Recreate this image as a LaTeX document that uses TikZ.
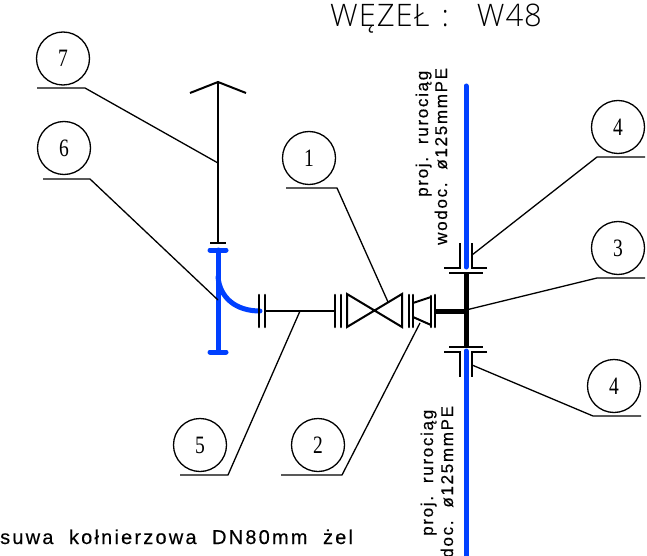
\documentclass[tikz,border=0pt]{standalone}
\usepackage{fontspec}
\setmainfont{Liberation Serif}
\newfontfamily\bubfont[FakeStretch=0.78]{Liberation Serif}
\newfontfamily\cadfont[LetterSpace=10,FakeBold=0.4]{Liberation Sans}
\newfontfamily\cadwide[LetterSpace=11,FakeBold=0.3]{Liberation Sans}
\newfontfamily\titlefont[LetterSpace=3]{Open Sans Light}
\definecolor{pipeblue}{RGB}{0,64,255}
\tikzset{
  pipe/.style={line width=2pt},
  fl/.style={line width=2.6pt,line cap=round},
  thick pipe/.style={line width=5pt},
  bluepipe/.style={draw=pipeblue,line width=5pt,line cap=round},
  leader/.style={line width=1.3pt},
  bub/.style={circle,draw,line width=1.3pt,minimum size=53pt,inner sep=0pt,font=\bubfont\fontsize{25}{25}\selectfont},
  cad/.style={font=\cadfont\fontsize{17}{17}\selectfont,inner sep=0pt},
  cadv/.style={cad,rotate=90,anchor=base west},
}
\begin{document}
\begin{tikzpicture}[x=1pt,y=-1pt]
\path[use as bounding box] (0,0) rectangle (647,556);
\clip (0,0) rectangle (647,556);
% bubbles
\node[bub] (b7) at (63,58.5) {7};
\node[bub] (b6) at (64,148) {6};
\node[bub] (b1) at (309,158) {1};
\node[bub] (b5) at (200,445) {5};
\node[bub] (b2) at (318,445) {2};
\node[bub] (b4a) at (618,127) {4};
\node[bub] (b3) at (618,248) {3};
\node[bub] (b4b) at (614,386) {4};
% named points
\coordinate (top) at (218,82);
\coordinate (stemcap) at (218,243);
\coordinate (j7) at (218,163);
\coordinate (j6) at (218,300);
\coordinate (j1) at (388,302);
\coordinate (j5) at (300,311);
\coordinate (j2) at (420,323);
\coordinate (j3) at (466,310);
\coordinate (j4a) at (472,255);
\coordinate (j4b) at (472,365);
% blue pipes
\draw[bluepipe] (466,86) -- (466,267);
\draw[bluepipe] (466,351) -- (466,560);
\draw[bluepipe] (218,250) -- (218,352);
\draw[bluepipe] (210,250) -- (226,250);
\draw[bluepipe] (210,352) -- (226,352);
\draw[bluepipe] (218,277) .. controls (220,298) and (236,311) .. (260,311);
% vent
\draw[pipe] (top) -- (stemcap);
\draw[pipe] (190,93) -- (top) -- (246,93);
\draw[pipe] (210,243) -- (226,243);
% left flanged pipe
\draw[fl] (259,295) -- (259,327);
\draw[fl] (265,295) -- (265,327);
\draw[pipe] (265,311) -- (335,311);
\draw[fl] (335,295) -- (335,327);
\draw[fl] (341,295) -- (341,327);
% valve
\draw[pipe,line join=miter] (347,294) -- (347,327) -- (402,294) -- (402,327) -- cycle;
\draw[fl] (409,295) -- (409,327);
\draw[fl] (413,295) -- (413,327);
% reducer
\draw[pipe] (413,303) -- (431,297);
\draw[pipe] (413,317) -- (431,325);
\draw[fl] (431,296) -- (431,327);
\draw[fl] (435,295) -- (435,327);
% tee
\draw[thick pipe] (435,311) -- (468,311);
\draw[thick pipe] (466,272) -- (466,348);
\draw[pipe] (449,273) -- (483,273);
\draw[pipe] (449,347) -- (483,347);
\draw[pipe] (444,268) -- (460,268) -- (460,243);
\draw[pipe] (487,268) -- (472,268) -- (472,243);
\draw[pipe] (444,352) -- (460,352) -- (460,377);
\draw[pipe] (487,352) -- (472,352) -- (472,377);
% leaders
\draw[leader] (37,88) -- (85,88) -- (j7);
\draw[leader] (43,179) -- (90,179) -- (j6);
\draw[leader] (286,188) -- (337,188) -- (j1);
\draw[leader] (180,475) -- (228,475) -- (j5);
\draw[leader] (281,475) -- (342,475) -- (j2);
\draw[leader] (645,157) -- (597,157) -- (j4a);
\draw[leader] (645,278) -- (597,278) -- (j3);
\draw[leader] (641,416) -- (593,416) -- (j4b);
% text
\node[font=\titlefont\fontsize{31}{31}\selectfont,inner sep=0pt,anchor=base west] (title) at (330,27) {WĘZEŁ\hspace{12pt}:\hspace{28pt}W48};
\node[cadv] (t1) at (428,197) {proj.\ \ rurociąg};
\node[cadv] (t2) at (447,245) {wodoc.\ \ ø125mmPE};
\node[cadv] (t3) at (433,536) {proj.\ \ rurociąg};
\node[cadv] (t4) at (453,583) {wodoc.\ \ ø125mmPE};
\node[font=\cadwide\fontsize{20}{20}\selectfont,inner sep=0pt,anchor=base west] (t5) at (0,544) {suwa\ \ kołnierzowa\ \ DN80mm\ \ żel};
\end{tikzpicture}
\end{document}
